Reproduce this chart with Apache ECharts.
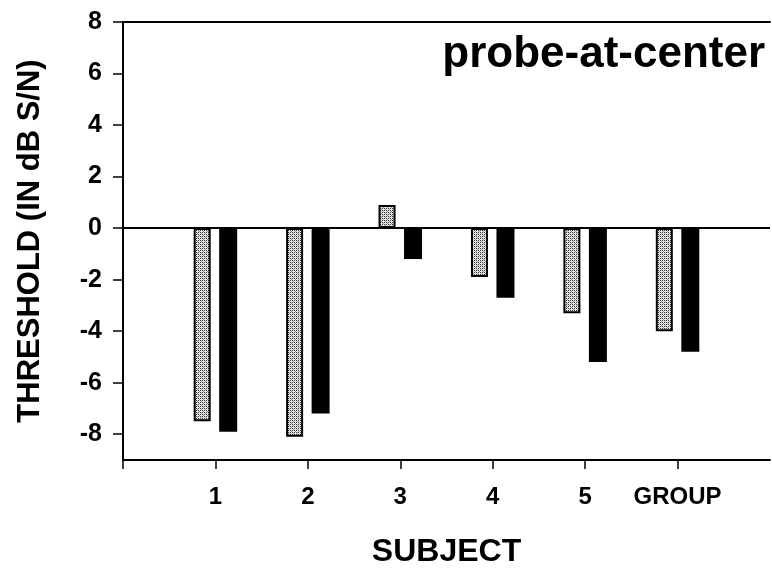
<!DOCTYPE html>
<html>
<head>
<meta charset="utf-8">
<script src="https://cdn.jsdelivr.net/npm/echarts@6/dist/echarts.min.js"></script>
<style>html,body{margin:0;padding:0;background:#fff}#c{width:772px;height:569px}</style>
</head>
<body>
<div id="c"></div>
<script>
const categories = ['', '1', '2', '3', '4', '5', 'GROUP', ''];
const lightValues = [null, -7.5, -8.1, 0.9, -1.9, -3.3, -4.0, null];
const darkValues = [null, -7.9, -7.2, -1.2, -2.7, -5.2, -4.8, null];
const yTicks = [-8, -6, -4, -2, 0, 2, 4, 6, 8];

const pc = document.createElement('canvas');
pc.width = 4; pc.height = 4;
const g = pc.getContext('2d');
g.fillStyle = '#e6e6e6'; g.fillRect(0, 0, 4, 4);
g.fillStyle = '#333333';
g.fillRect(0, 0, 1, 1); g.fillRect(2, 2, 1, 1); g.fillRect(2, 0, 1, 1); g.fillRect(0, 2, 1, 1);
g.fillStyle = '#999999';
g.fillRect(1, 1, 1, 1); g.fillRect(3, 3, 1, 1);

const chart = echarts.init(document.getElementById('c'), null, {renderer: 'canvas'});
const font = 'Liberation Sans, Arial, sans-serif';
chart.setOption({
  animation: false,
  backgroundColor: '#fff',
  title: {
    text: 'probe-at-center', right: 7, top: 33, padding: 0,
    textStyle: {fontFamily: font, fontSize: 44, fontWeight: 'bold', color: '#000'}
  },
  grid: {left: 123, right: 2, top: 22, bottom: 109, containLabel: false, outerBoundsMode: 'none'},
  xAxis: [{
    type: 'category', data: categories, boundaryGap: false,
    axisLine: {onZero: false, lineStyle: {color: '#000', width: 2}},
    axisTick: {show: true, length: 9, interval: function (i) { return i < 7; }, lineStyle: {color: '#000', width: 1.5}},
    axisLabel: {color: '#000', fontFamily: font, fontSize: 24, fontWeight: 'bold', margin: 25, interval: 0},
    name: 'SUBJECT', nameLocation: 'middle', nameGap: 76,
    nameTextStyle: {color: '#000', fontFamily: font, fontSize: 32, fontWeight: 'bold'}
  }, {
    type: 'category', data: categories, boundaryGap: false, position: 'top',
    axisLine: {onZero: false, lineStyle: {color: '#000', width: 2}},
    axisTick: {show: false}, axisLabel: {show: false}
  }],
  yAxis: {
    type: 'value', min: -9, max: 8,
    axisLine: {show: true, onZero: false, lineStyle: {color: '#000', width: 2}},
    axisTick: {show: true, length: 10, customValues: yTicks, lineStyle: {color: '#000', width: 1.5}},
    axisLabel: {color: '#000', fontFamily: font, fontSize: 25, fontWeight: 'bold', margin: 21, customValues: yTicks},
    splitLine: {show: false},
    name: 'THRESHOLD (IN dB S/N)', nameLocation: 'middle', nameGap: 77,
    nameTextStyle: {color: '#000', fontFamily: font, fontSize: 31, fontWeight: 'bold'}
  },
  series: [{
    type: 'bar', data: lightValues, barWidth: 17, barGap: '50%',
    itemStyle: {color: {image: pc, repeat: 'repeat'}, borderColor: '#000', borderWidth: 2}
  }, {
    type: 'bar', data: darkValues, barWidth: 18,
    itemStyle: {color: '#000'},
    markLine: {
      silent: true, symbol: ['none', 'none'], label: {show: false},
      lineStyle: {color: '#000', width: 2, type: 'solid'},
      data: [{yAxis: 0}]
    }
  }]
});
</script>
</body>
</html>
